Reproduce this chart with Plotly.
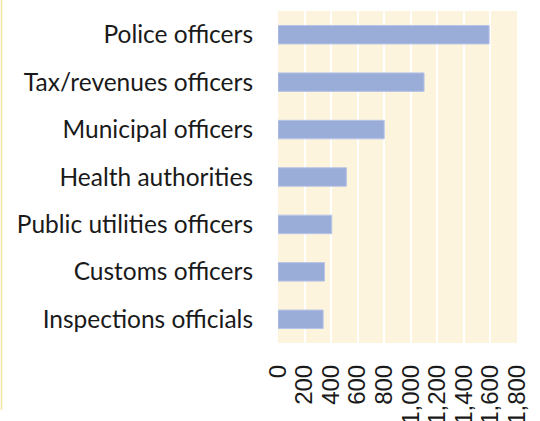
import plotly.graph_objects as go

categories = ["Police officers", "Tax/revenues officers", "Municipal officers",
              "Health authorities", "Public utilities officers", "Customs officers",
              "Inspections officials"]
values = [1590, 1100, 800, 515, 405, 350, 340]
tick_vals = [0, 200, 400, 600, 800, 1000, 1200, 1400, 1600, 1800]
tick_text = ["0", "200", "400", "600", "800", "1,000", "1,200", "1,400", "1,600", "1,800"]

W, H = 540, 421
ml, mr, mt, mb = 278, 23, 11, 78

fig = go.Figure(go.Bar(
    x=values[::-1], y=categories[::-1], orientation="h",
    marker=dict(color="#9AACD8", line=dict(color="#B8C5E6", width=1)),
    width=0.39,
))

pw = W - ml - mr
ph = H - mt - mb
fig.add_shape(type="line", xref="paper", yref="paper",
              x0=-(ml - 1.5) / pw, x1=-(ml - 1.5) / pw,
              y0=1 + mt / ph, y1=-(mb - 11) / ph,
              line=dict(color="#F5E6A6", width=1.5))

fig.update_layout(
    width=W, height=H,
    margin=dict(l=ml, r=mr, t=mt, b=mb, autoexpand=False),
    paper_bgcolor="white", plot_bgcolor="#FDF4DD",
    showlegend=False,
    font=dict(family="Lato", color="#1a1a1a"),
    xaxis=dict(range=[0, 1800], tickvals=tick_vals, ticktext=tick_text,
               tickangle=-90, showgrid=True, gridcolor="white", gridwidth=2,
               zeroline=False, showline=False, ticks="",
               ticklabelstandoff=16,
               tickfont=dict(family="Liberation Sans", size=24, color="#1a1a1a"),
               automargin=False, fixedrange=True),
    yaxis=dict(showgrid=False, zeroline=False, showline=False, ticks="",
               ticklabelstandoff=24, automargin=False,
               tickfont=dict(family="Lato", size=24.5, color="#1a1a1a"),
               range=[-0.5, 6.5]),
)

fig.write_html("out.html", config={"displayModeBar": False},
               post_script="document.body.style.margin='0';document.body.style.overflow='hidden';")
